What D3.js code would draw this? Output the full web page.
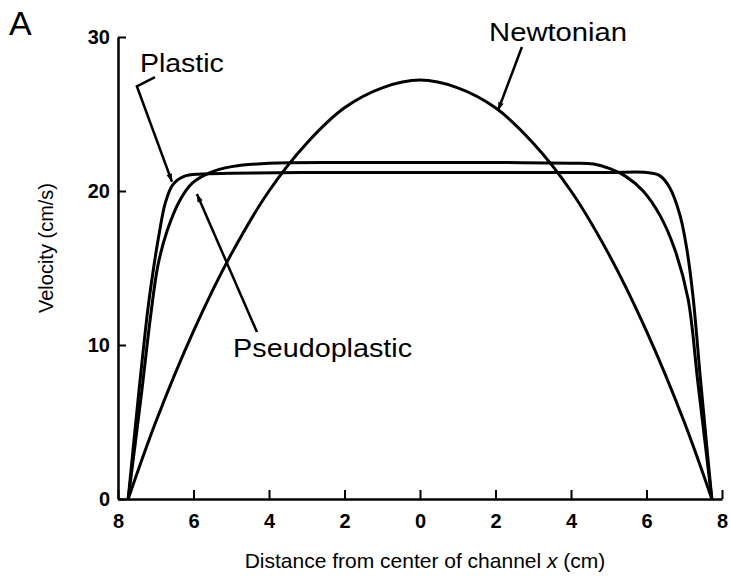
<!DOCTYPE html>
<html>
<head>
  <title>Velocity profiles</title>
  <script src="https://d3js.org/d3.v7.min.js"></script>
  <style>
    body { margin: 0; background: #fff; }
    text { font-family: "Liberation Sans", Arial, Helvetica, sans-serif; fill: #000; }
  </style>
</head>
<body>
  <div id="chart"></div>

  <script>
    // distance from channel centre (cm) and velocity (cm/s)
    var newtonianX = [-7.73, -7, -6, -5, -4, -3, -2, -1, 0, 1, 2, 3, 4, 5, 6, 7, 7.73];
    var newtonianV = [0, 5.0, 10.9, 15.9, 20.0, 23.1, 25.4, 26.7, 27.2, 26.7, 25.4, 23.1, 20.0, 15.9, 10.9, 5.0, 0];

    var plasticX = [-7.73, -7.47, -7.21, -7.02, -6.89, -6.75, -6.55, -6.25, -5.8, -5, -3, 0, 3, 5, 6.0, 6.35, 6.62, 6.89, 7.07, 7.23, 7.44, 7.73];
    var plasticV = [0, 6.4, 12.3, 15.6, 17.5, 19.2, 20.4, 20.95, 21.1, 21.15, 21.2, 21.2, 21.2, 21.2, 21.2, 21.0, 20.2, 18.4, 16.2, 13.2, 7.5, 0];

    var pseudoX = [-7.73, -7.39, -7.13, -6.94, -6.70, -6.36, -6.04, -5.56, -4.95, -4, -2, 0, 2, 4, 4.6, 5.03, 5.45, 5.91, 6.36, 6.75, 7.10, 7.36, 7.73];
    var pseudoV = [0, 6.6, 12.0, 15.2, 17.4, 19.4, 20.5, 21.2, 21.6, 21.8, 21.85, 21.85, 21.85, 21.8, 21.75, 21.45, 20.95, 20.0, 18.4, 16.2, 13.0, 7.6, 0];

    var xTicks = [-8, -6, -4, -2, 0, 2, 4, 6, 8];
    var yTicks = [0, 10, 20, 30];

    var width = 730, height = 576;

    var svg = d3.select('#chart').append('svg')
      .attr('width', width)
      .attr('height', height);

    svg.append('rect').attr('width', width).attr('height', height).attr('fill', '#fff');

    var x = d3.scaleLinear().domain([-8, 8]).range([118, 722]);
    var y = d3.scaleLinear().domain([0, 30]).range([499, 37]);

    // arrow head
    svg.append('defs').append('marker')
      .attr('id', 'head')
      .attr('viewBox', '0 0 10 10')
      .attr('refX', 10).attr('refY', 5)
      .attr('markerWidth', 11).attr('markerHeight', 8)
      .attr('markerUnits', 'userSpaceOnUse')
      .attr('orient', 'auto')
      .append('path')
      .attr('d', 'M0,1.5 L10,5 L0,8.5 Z')
      .attr('fill', '#000');

    // axes, ticks point inward
    var xAxis = svg.append('g')
      .attr('transform', 'translate(0,' + y(0) + ')')
      .call(d3.axisBottom(x).tickValues(xTicks).tickSizeInner(-9).tickSizeOuter(0).tickPadding(15)
        .tickFormat(function(d) { return Math.abs(d); }));

    var yAxis = svg.append('g')
      .attr('transform', 'translate(' + x(-8) + ',0)')
      .call(d3.axisLeft(y).tickValues(yTicks).tickSizeInner(-8).tickSizeOuter(0).tickPadding(8));

    [xAxis, yAxis].forEach(function(a) {
      a.select('.domain').attr('stroke', '#000').attr('stroke-width', 2.5);
      a.selectAll('.tick line').attr('stroke', '#000').attr('stroke-width', 2);
      a.selectAll('.tick text')
        .attr('font-size', 20)
        .attr('font-weight', 'bold')
        .style('font-family', '"Liberation Sans", Arial, sans-serif');
    });

    // curves
    var line = d3.line()
      .x(function(d) { return x(d[0]); })
      .y(function(d) { return y(d[1]); })
      .curve(d3.curveCatmullRom.alpha(0.5));

    var series = [
      d3.zip(newtonianX, newtonianV),
      d3.zip(plasticX, plasticV),
      d3.zip(pseudoX, pseudoV)
    ];

    svg.selectAll('.curve')
      .data(series)
      .enter()
      .append('path')
      .attr('class', 'curve')
      .attr('d', line)
      .attr('fill', 'none')
      .attr('stroke', '#000')
      .attr('stroke-width', 3);

    // labels with leader arrows (data units)
    var labels = [
      { text: 'Newtonian', at: [1.83, 29.75], len: 138, leader: [[2.70, 29.35], [2.07, 25.25]] },
      { text: 'Plastic', at: [-7.42, 27.75], len: 84, leader: [[-7.02, 27.4], [-7.50, 26.8], [-6.57, 20.6]] },
      { text: 'Pseudoplastic', at: [-4.95, 9.2], len: 179, leader: [[-4.32, 10.85], [-5.91, 19.8]] }
    ];

    var leaderLine = d3.line()
      .x(function(d) { return x(d[0]); })
      .y(function(d) { return y(d[1]); });

    labels.forEach(function(l) {
      svg.append('text')
        .attr('x', x(l.at[0]))
        .attr('y', y(l.at[1]))
        .attr('font-size', 25)
        .attr('textLength', l.len)
        .attr('lengthAdjust', 'spacingAndGlyphs')
        .text(l.text);
      svg.append('path')
        .attr('d', leaderLine(l.leader))
        .attr('fill', 'none')
        .attr('stroke', '#000')
        .attr('stroke-width', 2.5)
        .attr('marker-end', 'url(#head)');
    });

    // axis titles
    var xt = svg.append('text')
      .attr('x', 425)
      .attr('y', 568)
      .attr('text-anchor', 'middle')
      .attr('font-size', 21);
    xt.append('tspan').text('Distance from center of channel ');
    xt.append('tspan').attr('font-style', 'italic').text('x');
    xt.append('tspan').text(' (cm)');

    svg.append('text')
      .attr('transform', 'translate(53,248) rotate(-90)')
      .attr('text-anchor', 'middle')
      .attr('font-size', 20)
      .text('Velocity (cm/s)');

    // panel letter
    svg.append('text')
      .attr('x', 9)
      .attr('y', 35)
      .attr('font-size', 34)
      .text('A');
  </script>
</body>
</html>
